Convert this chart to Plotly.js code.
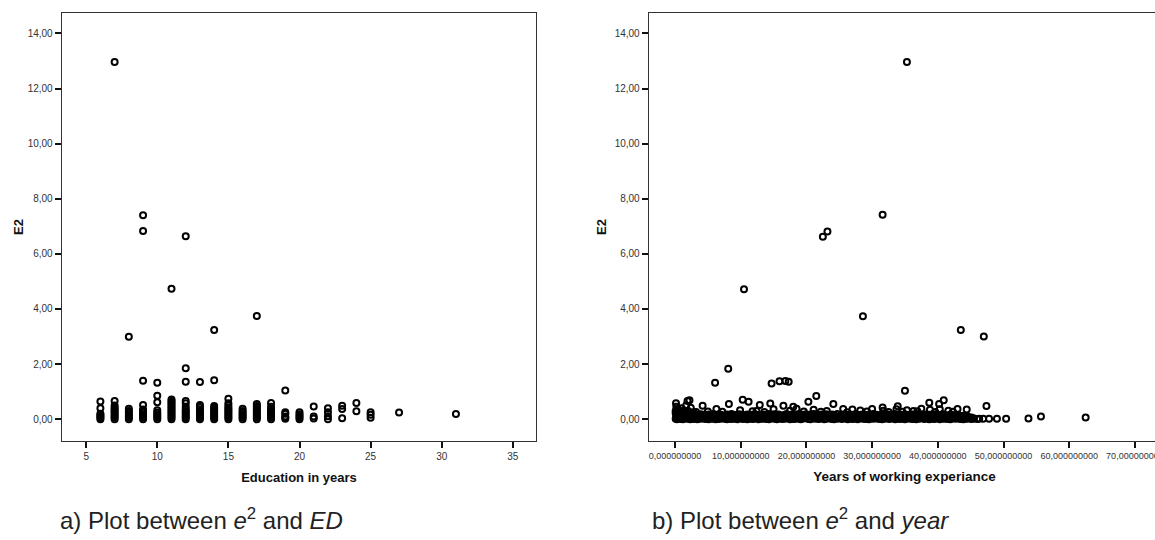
<!DOCTYPE html>
<html><head><meta charset="utf-8">
<script src="https://cdn.plot.ly/plotly-3.0.1.min.js"></script>
<style>html,body{margin:0;padding:0;overflow:hidden;background:#fff}#chart{width:1170px;height:540px}</style>
</head><body><div id="chart"></div>
<script>
// ---- Panel a: E2 vs Education in years ----
const eduX = [
  6,6,6,6,6,6,6,
  7,7,7,7,7,7,7,7,7,7,7,
  8,8,8,8,8,8,8,8,
  9,9,9,9,9,9,9,9,9,9,9,
  10,10,10,10,10,10,10,10,10,
  11,11,11,11,11,11,11,11,11,11,11,11,11,11,
  12,12,12,12,12,12,12,12,12,12,12,12,12,
  13,13,13,13,13,13,13,13,13,13,
  14,14,14,14,14,14,14,14,14,14,14,
  15,15,15,15,15,15,15,15,15,15,15,
  16,16,16,16,16,16,16,
  17,17,17,17,17,17,17,17,17,17,17,
  18,18,18,18,18,18,18,18,18,
  19,19,19,19,19,19,
  20,20,20,20,20,
  21,21,21,
  22,22,22,22,
  23,23,23,
  24,24,
  25,25,25,
  27,
  31
];
const eduY = [
  0,0.05,0.10,0.15,0.20,0.40,0.64,
  0,0.06,0.12,0.18,0.24,0.30,0.36,0.42,0.50,0.66,12.96,
  0,0.06,0.12,0.18,0.24,0.30,0.38,2.99,
  0,0.06,0.12,0.18,0.24,0.30,0.35,0.52,1.40,6.83,7.40,
  0,0.06,0.12,0.18,0.24,0.33,0.62,0.85,1.32,
  0,0.06,0.12,0.18,0.24,0.30,0.36,0.42,0.48,0.54,0.60,0.66,0.72,4.73,
  0,0.06,0.12,0.18,0.24,0.30,0.36,0.45,0.58,0.66,1.36,1.85,6.64,
  0,0.06,0.12,0.18,0.24,0.30,0.36,0.44,0.52,1.35,
  0,0.06,0.12,0.18,0.24,0.30,0.36,0.42,0.48,1.41,3.24,
  0,0.06,0.12,0.18,0.24,0.30,0.36,0.42,0.50,0.58,0.74,
  0,0.06,0.12,0.18,0.24,0.30,0.38,
  0,0.06,0.12,0.18,0.24,0.30,0.36,0.42,0.48,0.55,3.75,
  0,0.06,0.12,0.18,0.24,0.30,0.36,0.45,0.59,
  0.02,0.06,0.10,0.20,0.25,1.04,
  0,0.06,0.12,0.18,0.25,
  0.03,0.10,0.46,
  0.00,0.11,0.25,0.40,
  0.04,0.37,0.49,
  0.29,0.59,
  0.05,0.16,0.25,
  0.24,
  0.19
];

// ---- Panel b: E2 vs Years of working experiance ----
// dense band along the bottom
const expBandX = [0.1,0.3,0.6,0.9,1.2,1.6,1.9,2.3,2.7,3.0,3.4,3.9,4.3,4.6,5.1,5.5,5.8,6.2,6.7,7.0,
  7.4,7.9,8.3,8.6,9.1,9.5,9.8,10.3,10.7,11.0,11.5,11.9,12.2,12.7,13.1,13.4,13.9,14.3,14.7,15.1,
  15.5,15.8,16.3,16.7,17.0,17.5,17.9,18.2,18.7,19.1,19.4,19.9,20.3,20.6,21.1,21.5,21.9,22.3,22.7,23.0,
  23.5,23.9,24.2,24.7,25.1,25.4,25.9,26.3,26.7,27.1,27.5,27.8,28.3,28.7,29.0,29.5,29.9,30.2,30.7,31.1,
  31.5,31.9,32.3,32.6,33.1,33.5,33.8,34.3,34.7,35.0,35.5,35.9,36.2,36.7,37.1,37.4,37.9,38.3,38.7,39.1,
  39.5,39.8,40.3,40.7,41.0,41.5,41.9,42.2,42.7,43.1,43.4,43.9,44.3,44.6,45.1];
const expBandLowY = [0.02,0.00,0.03,0.01,0.00,0.04,0.02,0.00,0.01,0.03,0.00,0.02,0.04,0.01,0.00,0.03,0.02,0.00,0.01,0.04,
  0.02,0.00,0.03,0.01,0.02,0.00,0.04,0.01,0.03,0.00,0.02,0.01,0.04,0.00,0.03,0.02,0.01,0.00,0.04,0.02,
  0.00,0.03,0.01,0.02,0.04,0.00,0.02,0.01,0.03,0.00,0.02,0.04,0.01,0.00,0.03,0.02,0.01,0.04,0.00,0.02,
  0.03,0.01,0.00,0.02,0.04,0.01,0.03,0.00,0.02,0.01,0.04,0.00,0.03,0.02,0.01,0.00,0.04,0.02,0.03,0.01,
  0.00,0.02,0.04,0.01,0.03,0.00,0.02,0.01,0.04,0.00,0.03,0.02,0.01,0.00,0.02,0.04,0.01,0.03,0.00,0.02,
  0.01,0.04,0.00,0.03,0.02,0.01,0.00,0.03,0.02,0.04,0.01,0.00,0.02,0.03,0.01];
const expBandMidX = [0.2,0.5,0.8,1.1,1.4,1.8,2.1,2.5,2.9,3.2,3.7,4.1,4.5,4.9,5.3,5.7,6.0,6.5,6.9,7.2,
  7.7,8.1,8.5,8.9,9.3,9.7,10.1,10.5,10.9,11.3,11.7,12.1,12.5,12.9,13.3,13.7,14.1,14.5,14.9,15.3,
  15.7,16.1,16.5,16.9,17.3,17.7,18.1,18.5,18.9,19.3,19.7,20.1,20.5,20.9,21.3,21.7,22.1,22.5,22.9,23.3,
  23.7,24.1,24.5,24.9,25.3,25.7,26.1,26.5,26.9,27.3,27.7,28.1,28.5,28.9,29.3,29.7,30.1,30.5,30.9,31.3,
  31.7,32.1,32.5,32.9,33.3,33.7,34.1,34.5,34.9,35.3,35.7,36.1,36.5,36.9,37.3,37.7,38.1,38.5,38.9,39.3,
  39.7,40.1,40.5,40.9,41.3,41.7,42.1,42.5,42.9,43.3,43.7,44.1,44.5,44.9,45.4];
const expBandMidY = [0.10,0.08,0.12,0.07,0.09,0.11,0.08,0.10,0.07,0.09,0.08,0.11,0.07,0.09,0.10,0.08,0.12,0.07,0.09,0.08,
  0.10,0.07,0.09,0.11,0.08,0.10,0.07,0.09,0.08,0.11,0.07,0.10,0.09,0.08,0.11,0.07,0.09,0.10,0.08,0.07,
  0.11,0.09,0.08,0.10,0.07,0.09,0.11,0.08,0.10,0.07,0.09,0.08,0.11,0.07,0.10,0.09,0.08,0.07,0.11,0.09,
  0.08,0.10,0.07,0.09,0.11,0.08,0.10,0.07,0.09,0.08,0.11,0.07,0.10,0.09,0.08,0.07,0.11,0.09,0.10,0.08,
  0.07,0.09,0.11,0.08,0.10,0.07,0.09,0.08,0.11,0.07,0.10,0.09,0.08,0.07,0.11,0.09,0.10,0.08,0.07,0.09,
  0.11,0.08,0.10,0.07,0.09,0.08,0.07,0.10,0.09,0.08,0.06,0.07,0.05,0.04,0.03];
const expBandHighY = [0.22,0.18,0.25,0.16,0.20,0.24,0.17,0.21,0.15,0.19,0.14,0.18,0.16,0.13,0.17,0.15,0.19,0.14,0.18,0.16,
  0.13,0.17,0.15,0.19,0.14,0.16,0.18,0.15,0.13,0.17,0.16,0.14,0.18,0.15,0.13,0.17,0.16,0.19,0.14,0.18,
  0.15,0.17,0.13,0.16,0.19,0.14,0.18,0.15,0.17,0.13,0.16,0.18,0.14,0.17,0.19,0.15,0.13,0.17,0.16,0.18,
  0.14,0.17,0.15,0.19,0.13,0.16,0.18,0.14,0.17,0.15,0.19,0.13,0.16,0.18,0.15,0.17,0.14,0.19,0.16,0.13,
  0.17,0.15,0.18,0.14,0.16,0.19,0.13,0.17,0.15,0.18,0.14,0.16,0.17,0.13,0.19,0.15,0.18,0.14,0.16,0.17,
  0.15,0.19,0.14,0.18,0.16,0.13,0.17,0.15,0.14,0.16,0.12,0.13,0.10,0.09,0.06];
// scattered points on top of the band and outliers
const expPtX = [0.1,0.2,0.5,0.8,1.0,1.4,1.7,2.0,2.4,2.8,
  6.3,9.9,12.4,15.0,17.5,18.5,21.1,23.1,25.6,27.0,28.2,30.0,31.7,33.7,35.3,36.3,37.5,38.8,40.3,41.6,43.0,44.4,
  3.2,5.0,7.2,11.8,13.6,19.6,22.2,26.2,29.2,32.5,34.6,36.9,39.6,42.3,
  35.3,31.6,23.2,22.5,10.5,28.6,43.5,47.0,8.1,6.1,14.7,15.9,16.8,17.3,35.0,21.5,20.3,40.9,38.7,40.2,
  10.3,11.2,2.2,1.9,0.15,4.2,8.2,12.9,14.5,16.5,24.1,33.9,31.6,47.4,18.0,
  45.5,46.0,46.3,46.9,47.8,49.0,50.4,53.8,55.7,62.5];
const expPtY = [0.30,0.45,0.35,0.25,0.40,0.32,0.50,0.30,0.42,0.25,
  0.37,0.33,0.30,0.36,0.31,0.38,0.34,0.30,0.37,0.35,0.32,0.37,0.31,0.36,0.33,0.30,0.38,0.34,0.36,0.31,0.37,0.35,
  0.26,0.28,0.27,0.29,0.26,0.28,0.27,0.25,0.28,0.26,0.27,0.29,0.26,0.27,
  12.96,7.42,6.81,6.62,4.72,3.74,3.24,3.00,1.83,1.32,1.30,1.38,1.39,1.36,1.03,0.84,0.63,0.69,0.60,0.55,
  0.71,0.63,0.69,0.66,0.58,0.49,0.55,0.52,0.57,0.49,0.55,0.47,0.43,0.48,0.45,
  0.03,0.01,0.02,0.02,0.02,0.02,0.02,0.03,0.10,0.06];

// ---- tick labels ----
const yTickVals = [0,2,4,6,8,10,12,14];
const yTickText = ['0,00','2,00','4,00','6,00','8,00','10,00','12,00','14,00'];
const eduTickVals = [5,10,15,20,25,30,35];
const eduTickText = ['5','10','15','20','25','30','35'];
const expTickVals = [0,10,20,30,40,50,60,70];
const expTickText = ['0,000000000','10,000000000','20,000000000','30,000000000','40,000000000','50,000000000','60,000000000','70,000000000'];

const W = 1170, H = 540;
const marker = {symbol:'circle-open', size:6, color:'#000', line:{width:2, color:'#000'}};

const traces = [
  {type:'scatter', mode:'markers', x:eduX, y:eduY, xaxis:'x', yaxis:'y', marker:marker, hoverinfo:'x+y'},
  {type:'scatter', mode:'markers',
   x:expBandX.concat(expBandMidX, expBandX, expPtX),
   y:expBandLowY.concat(expBandMidY, expBandHighY, expPtY),
   xaxis:'x2', yaxis:'y2', marker:marker, hoverinfo:'x+y'}
];

const FAM = 'Liberation Sans, Arial, sans-serif';
const tickFont = {family:FAM, size:10, color:'#333'};
const titleFont = {family:FAM, size:13, color:'#111', weight:'bold'};
const axisCommon = {showgrid:false, zeroline:false, showline:true, mirror:true, linecolor:'#333', linewidth:1.3,
  ticks:'outside', ticklen:6, tickwidth:2, tickcolor:'#111', tickfont:tickFont, fixedrange:true};

const yDom = [1-441/H, 1-13/H];
const layout = {
  width:W, height:H, margin:{l:0,r:0,t:0,b:0}, paper_bgcolor:'#fff', plot_bgcolor:'#fff', showlegend:false,
  xaxis: Object.assign({}, axisCommon, {domain:[62/W, 536/W], range:[3.30,36.63], tickvals:eduTickVals, ticktext:eduTickText,
    title:{text:'<b>Education in years</b>', font:titleFont, standoff:11}, anchor:'y'}),
  yaxis: Object.assign({}, axisCommon, {domain:yDom, range:[-0.79,14.74], tickvals:yTickVals, ticktext:yTickText,
    title:{text:'<b>E2</b>', font:titleFont, standoff:1}, anchor:'x'}),
  xaxis2: Object.assign({}, axisCommon, {domain:[649/W, 1160/W], range:[-3.96,73.82], tickvals:expTickVals, ticktext:expTickText,
    tickfont:{family:FAM, size:9, color:'#333'},
    title:{text:'<b>Years of working experiance</b>', font:{family:FAM, size:13.5, color:'#111', weight:'bold'}, standoff:11}, anchor:'y2'}),
  yaxis2: Object.assign({}, axisCommon, {domain:yDom, range:[-0.79,14.74], tickvals:yTickVals, ticktext:yTickText,
    title:{text:'<b>E2</b>', font:titleFont, standoff:5}, anchor:'x2'}),
  annotations:[
    {xref:'paper', yref:'paper', x:58/W, y:1-519/H, xanchor:'left', yanchor:'middle', showarrow:false,
     text:'a) Plot between <i>e</i><sup>2</sup> and <i>ED</i>', font:{family:FAM, size:24, color:'#222'}},
    {xref:'paper', yref:'paper', x:650/W, y:1-519/H, xanchor:'left', yanchor:'middle', showarrow:false,
     text:'b) Plot between <i>e</i><sup>2</sup> and <i>year</i>', font:{family:FAM, size:24, color:'#222'}}
  ]
};
Plotly.newPlot('chart', traces, layout, {displayModeBar:false, staticPlot:true});
</script></body></html>
